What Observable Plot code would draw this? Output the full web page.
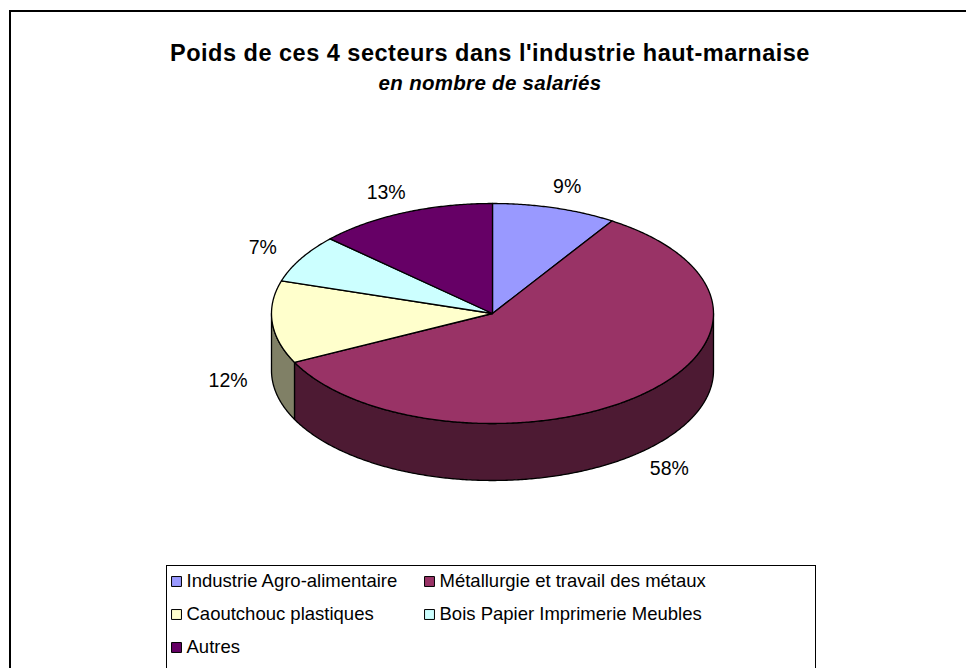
<!DOCTYPE html>
<html>
<head>
<meta charset="utf-8">
<script src="https://cdn.jsdelivr.net/npm/d3@7"></script>
<script src="https://cdn.jsdelivr.net/npm/@observablehq/plot@0.6"></script>
<style>
  html, body { margin: 0; padding: 0; background: #fff; overflow: hidden; width: 966px; height: 668px; }
  body { position: relative; font-family: "Liberation Sans", Arial, sans-serif; }
  #frame { position: absolute; left: 9px; top: 10px; width: 1000px; height: 700px; border-left: 2px solid #000; border-top: 2px solid #000; }
  #chart { position: absolute; left: 0; top: 0; }
  .ttl { position: absolute; left: 0; width: 980px; text-align: center; color: #000; white-space: nowrap; }
  #title { top: 42px; font-size: 23.5px; line-height: 23.5px; font-weight: bold; letter-spacing: 0.5px; }
  #subtitle { top: 73px; font-size: 20.5px; line-height: 20.5px; font-weight: bold; font-style: italic; letter-spacing: 0.3px; }
  #legend { position: absolute; left: 166px; top: 565px; width: 648px; height: 130px; border: 1px solid #000; background: #fff; }
</style>
</head>
<body>
<div id="frame"></div>
<div id="chart"></div>
<div class="ttl" id="title">Poids de ces 4 secteurs dans l'industrie haut-marnaise</div>
<div class="ttl" id="subtitle">en nombre de salariés</div>
<div id="legend"></div>
<script>
// ---- data ----
const categories = [
  "Industrie Agro-alimentaire",
  "Métallurgie et travail des métaux",
  "Caoutchouc plastiques",
  "Bois Papier Imprimerie Meubles",
  "Autres"
];
const shares = [9, 58, 12, 7, 13];
const colors = ["#9999FF", "#993366", "#FFFFCC", "#CCFFFF", "#660066"];
const shareLabels = shares.map(v => v + "%");

// ---- layout constants (pixels) ----
const W = 966, H = 668;
const CX = 492, CY = 313, RX = 221, RY = 110, DEPTH_PX = 57;
const DEPTH = DEPTH_PX / RY;
const FONT = "Liberation Sans, Arial, sans-serif";

const arcs = d3.pie().sort(null).value(d => d)(shares);
const step = Math.PI / 360;
function arcPts(a0, a1, dy) {
  const n = Math.max(2, Math.ceil(Math.abs(a1 - a0) / step));
  return d3.range(n + 1).map(i => {
    const a = a0 + (a1 - a0) * i / n;
    return {x: Math.sin(a), y: Math.cos(a) - dy};
  });
}
function darker(c) {
  const r = d3.rgb(c);
  return d3.rgb(Math.round(r.r / 2), Math.round(r.g / 2), Math.round(r.b / 2)).formatHex();
}

// top faces
const topPts = arcs.flatMap((a, i) => {
  const pts = [{x: 0, y: 0}, ...arcPts(a.startAngle, a.endAngle, 0), {x: 0, y: 0}];
  return pts.map(p => ({...p, cat: categories[i]}));
});

// side walls (front half only)
const sideMarks = [];
arcs.forEach((a, i) => {
  const lo = Math.max(a.startAngle, Math.PI / 2);
  const hi = Math.min(a.endAngle, 3 * Math.PI / 2);
  if (lo < hi) {
    const top = arcPts(lo, hi, 0);
    const bot = arcPts(hi, lo, DEPTH);
    const pts = [...top, ...bot, top[0]];
    sideMarks.push(Plot.line(pts, {x: "x", y: "y", fill: darker(colors[i]), stroke: "#000", strokeWidth: 1.3, strokeLinejoin: "round"}));
  }
});

// labels
const R_LAB = 1.2;
const labelData = arcs.map((a, i) => {
  const m = (a.startAngle + a.endAngle) / 2;
  const front = Math.cos(m) < 0 ? DEPTH : 0;
  return {x: R_LAB * Math.sin(m), y: R_LAB * Math.cos(m) - front, t: shareLabels[i]};
});

const chart = Plot.plot({
  width: W, height: H,
  margin: 0,
  x: {domain: [-CX / RX, (W - CX) / RX], range: [0, W], axis: null},
  y: {domain: [-(H - CY) / RY, CY / RY], range: [H, 0], axis: null},
  color: {domain: categories, range: colors},
  style: {background: "transparent", fontFamily: FONT},
  marks: [
    ...sideMarks,
    Plot.line(topPts, {x: "x", y: "y", z: "cat", fill: "cat", stroke: "#000", strokeWidth: 1.3, strokeLinejoin: "round"}),
    Plot.text(labelData, {x: "x", y: "y", text: "t", fontSize: 19.5, fill: "#000"})
  ]
});
document.getElementById("chart").appendChild(chart);

// legend
const legendData = categories.map((c, i) => ({cat: c, col: i % 2, row: Math.floor(i / 2)}));
const legend = Plot.plot({
  width: 648, height: 130,
  margin: 0,
  x: {domain: [0, 1], range: [9, 262], axis: null},
  y: {domain: [0, 2], range: [15, 81], axis: null},
  color: {domain: categories, range: colors},
  style: {background: "transparent", fontFamily: FONT},
  marks: [
    Plot.dot(legendData, {x: "col", y: "row", fill: "cat", symbol: "square", r: 5.6, stroke: "#000", strokeWidth: 1}),
    Plot.text(legendData, {x: "col", y: "row", text: "cat", dx: 10, textAnchor: "start", fontSize: 18.5, fill: "#000"})
  ]
});
document.getElementById("legend").appendChild(legend);
</script>
</body>
</html>
